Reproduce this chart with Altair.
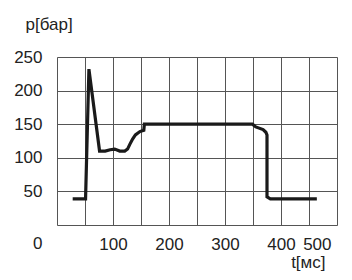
import altair as alt
import pandas as pd

t_ms = [28, 51, 57, 76, 86, 95, 103, 112, 121, 126, 130, 135, 140, 148, 155, 156,
        349, 355, 368, 373, 375, 375, 381, 464]
p_bar = [39, 39, 232, 110, 110, 112, 113, 110, 110, 113, 120, 128, 134, 139, 141, 150,
         150, 146, 142, 138, 134, 42, 39, 39]

df = pd.DataFrame({"t": t_ms, "p": p_bar, "i": list(range(len(t_ms)))})

FONT = "Liberation Sans"

x_ticks = [0, 50, 100, 150, 200, 250, 300, 350, 400, 450, 500]
y_ticks = [0, 50, 100, 150, 200, 250]

line = alt.Chart(df).mark_line(color="#1a1a1a", strokeWidth=3.2, strokeJoin="miter").encode(
    x=alt.X("t:Q", scale=alt.Scale(domain=[0, 500], nice=False),
            axis=alt.Axis(values=x_ticks, grid=True, gridColor="#555", gridWidth=1,
                          domain=False, ticks=False,
                          labelExpr="datum.value % 100 == 0 && datum.value > 0 ? datum.label : ''",
                          labelOffset={"condition": {"test": "datum.value == 500", "value": -6}, "value": 0},
                          labelFont=FONT, labelFontSize=17, labelColor="#222", labelPadding=11,
                          title="t[мс]", titleFont=FONT, titleFontSize=17, titleFontWeight="normal",
                          titleColor="#222", titleAlign="right", titleBaseline="alphabetic",
                          titleX=268, titleY=42, titleAnchor="end")),
    y=alt.Y("p:Q", scale=alt.Scale(domain=[0, 250], nice=False),
            axis=alt.Axis(values=y_ticks, grid=True, gridColor="#555", gridWidth=1,
                          domain=False, ticks=False,
                          labelFont=FONT, labelFontSize=17, labelColor="#222", labelPadding=15,
                          labelOffset={"condition": {"test": "datum.value == 0", "value": 18}, "value": 0},
                          title="p[бар]", titleFont=FONT, titleFontSize=17, titleFontWeight="normal",
                          titleColor="#222", titleAngle=0, titleAlign="left", titleBaseline="alphabetic",
                          titleX=-32, titleY=-28)),
    order="i:Q",
)

chart = line.properties(
    width=280, height=168,
    autosize=alt.AutoSizeParams(type="none"),
    padding={"left": 49, "top": 49, "right": 7, "bottom": 46},
).configure_view(stroke="#1a1a1a", strokeWidth=1.2).configure(background="white")

chart.save("out.html", embed_options={"renderer": "svg", "actions": False})
